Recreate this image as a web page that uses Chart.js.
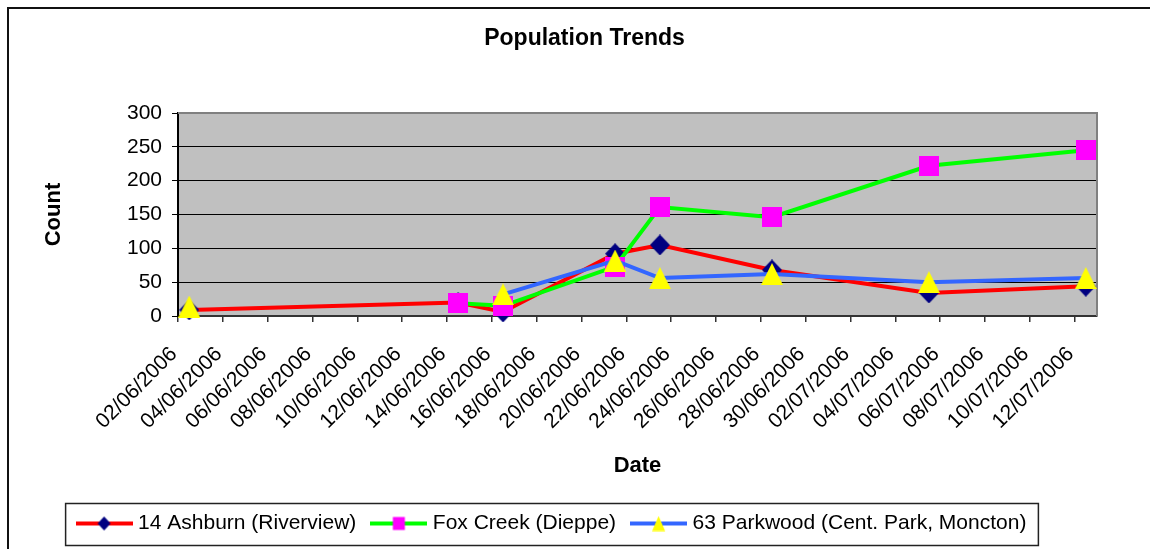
<!DOCTYPE html>
<html><head><meta charset="utf-8">
<script src="https://cdn.jsdelivr.net/npm/chart.js@4/dist/chart.umd.min.js"></script>
<style>html,body{margin:0;padding:0;background:#fff;} canvas{display:block;}</style>
</head><body>
<canvas id="c" width="1150" height="549"></canvas>
<script>
// ---- data ----
const chartTitle = 'Population Trends';
const xAxisTitle = 'Date';
const yAxisTitle = 'Count';
const seriesNames = ['14 Ashburn (Riverview)', 'Fox Creek (Dieppe)', '63 Parkwood (Cent. Park, Moncton)'];
const dates    = ['02/06/2006','14/06/2006','16/06/2006','21/06/2006','23/06/2006','28/06/2006','05/07/2006','12/07/2006'];
const ashburn  = [9,    20,   6,  92, 105,  68,  34,  44];
const foxCreek = [null, 19,  15,  73, 161, 146, 222, 245];
const parkwood = [14, null,  32,  82,  56,  62,  50,  56];
const tickLabels = ['02/06/2006','04/06/2006','06/06/2006','08/06/2006','10/06/2006','12/06/2006','14/06/2006',
  '16/06/2006','18/06/2006','20/06/2006','22/06/2006','24/06/2006','26/06/2006','28/06/2006','30/06/2006',
  '02/07/2006','04/07/2006','06/07/2006','08/07/2006','10/07/2006','12/07/2006'];
const yMin = 0, yMax = 300, yStep = 50;

// ---- helpers ----
const dayNum = s => { const [d, m, y] = s.split('/').map(Number); return Date.UTC(y, m - 1, d) / 864e5; };
const origin = dayNum(tickLabels[0]);
const dayPos = s => dayNum(s) - origin;          // start of the day slot
const series = [ashburn, foxCreek, parkwood];
const toPoints = vals => dates.map((d, i) => ({ x: dayPos(d) + 0.5, y: vals[i] }));
const tickValues = tickLabels.map(dayPos);
const xMax = dayPos(tickLabels[tickLabels.length - 1]) + 1;

function mk(w, h, fn) { const c = document.createElement('canvas'); c.width = w; c.height = h; fn(c.getContext('2d'), w, h); return c; }
function diamond(ctx, cx, cy, w, h, col) { ctx.fillStyle = col; ctx.beginPath(); ctx.moveTo(cx, cy - h/2); ctx.lineTo(cx + w/2, cy); ctx.lineTo(cx, cy + h/2); ctx.lineTo(cx - w/2, cy); ctx.closePath(); ctx.fill(); }
function square(ctx, cx, cy, w, h, col) { ctx.fillStyle = col; ctx.fillRect(cx - w/2, cy - h/2, w, h); }
function triangle(ctx, cx, cy, w, h, col) { ctx.fillStyle = col; ctx.beginPath(); ctx.moveTo(cx, cy - h/2); ctx.lineTo(cx + w/2, cy + h/2); ctx.lineTo(cx - w/2, cy + h/2); ctx.closePath(); ctx.fill(); }

const lineColors = ['#FF0000', '#00FF00', '#3366FF'];
const markerColors = ['#000080', '#FF00FF', '#FFFF00'];
const shapes = [diamond, square, triangle];
const markerSize = [[20, 21], [20, 20], [22, 22]];
const legendMarkerSize = [[13, 14], [12, 13], [13, 15]];

const markers = shapes.map((f, i) => mk(markerSize[i][0], markerSize[i][1], (ctx, w, h) => f(ctx, w/2, h/2, w, h, markerColors[i])));
const legendImgs = shapes.map((f, i) => mk(57, 16, (ctx, w, h) => {
  ctx.strokeStyle = lineColors[i]; ctx.lineWidth = 4; ctx.beginPath(); ctx.moveTo(0, h/2); ctx.lineTo(w, h/2); ctx.stroke();
  f(ctx, w/2, h/2, legendMarkerSize[i][0], legendMarkerSize[i][1], markerColors[i]);
}));

Chart.defaults.font.family = "'Liberation Sans', Arial, sans-serif";
Chart.defaults.color = '#000';

const framePlugin = {
  id: 'frame',
  afterLayout(chart) {
    // Excel centres the title on its (wider) chart object
    chart.titleBlock.left += 62;
  },
  beforeDraw(chart) {
    const { ctx, chartArea: a } = chart;
    ctx.save();
    ctx.fillStyle = '#fff'; ctx.fillRect(0, 0, chart.width, chart.height);
    ctx.strokeStyle = '#111'; ctx.lineWidth = 2;
    ctx.beginPath(); ctx.moveTo(8, chart.height); ctx.lineTo(8, 8); ctx.lineTo(chart.width, 8); ctx.stroke();
    ctx.fillStyle = '#C0C0C0'; ctx.fillRect(a.left, a.top, a.right - a.left, a.bottom - a.top);
    ctx.restore();
  },
  beforeDatasetsDraw(chart) {
    const { ctx, chartArea: a } = chart;
    ctx.save();
    ctx.strokeStyle = '#808080'; ctx.lineWidth = 2;
    ctx.beginPath(); ctx.moveTo(a.left, a.top); ctx.lineTo(a.right, a.top); ctx.lineTo(a.right, a.bottom); ctx.stroke();
    ctx.restore();
  },
  afterDraw(chart) {
    const lg = chart.legend; const hb = lg.legendHitBoxes;
    if (!hb || !hb.length) return;
    const first = hb[0], last = hb[hb.length - 1];
    const cy = first.top + first.height / 2;
    const ctx = chart.ctx;
    ctx.save();
    ctx.strokeStyle = '#222'; ctx.lineWidth = 1.5;
    const l = first.left - 15, r = last.left + last.width + 12;
    ctx.strokeRect(l, cy - 20, r - l, 42);
    ctx.restore();
  }
};

new Chart(document.getElementById('c'), {
  type: 'line',
  data: {
    datasets: series.map((vals, i) => ({
      label: seriesNames[i],
      data: toPoints(vals),
      borderColor: lineColors[i],
      backgroundColor: markerColors[i],
      borderWidth: 4,
      tension: 0,
      pointStyle: markers[i],
      pointRadius: 10,
      pointHoverRadius: 10,
      spanGaps: false,
      clip: false,
      order: series.length - 1 - i
    }))
  },
  options: {
    responsive: false,
    animation: false,
    events: [],
    layout: { padding: { left: 10, right: 53, top: 0, bottom: 5 } },
    plugins: {
      title: {
        display: true, text: chartTitle, color: '#000',
        font: { size: 23, weight: 'bold', lineHeight: 1.2 },
        padding: { top: 25, bottom: 60.4 }
      },
      legend: {
        position: 'bottom',
        labels: {
          usePointStyle: true, pointStyleWidth: 47, padding: 19,
          font: { size: 21 }, color: '#000',
          generateLabels: chart => chart.data.datasets.map((ds, i) => ({
            text: ds.label, pointStyle: legendImgs[i], fillStyle: markerColors[i], strokeStyle: lineColors[i],
            lineWidth: 0, hidden: false, datasetIndex: i, fontColor: '#000'
          }))
        }
      },
      tooltip: { enabled: false }
    },
    scales: {
      x: {
        type: 'linear', min: 0, max: xMax, offset: false,
        afterBuildTicks: axis => { axis.ticks = tickValues.map(v => ({ value: v })); },
        afterFit: axis => { axis.height = 178; },
        ticks: {
          autoSkip: false, minRotation: 45, maxRotation: 45, padding: 20, labelOffset: -4,
          font: { size: 21 }, color: '#000',
          callback: v => tickLabels[tickValues.indexOf(v)]
        },
        grid: { drawOnChartArea: false, drawTicks: true, tickLength: 6, color: '#333', lineWidth: 1.5 },
        border: { display: true, color: '#333', width: 2 },
        title: { display: true, text: xAxisTitle, color: '#000', font: { size: 22, weight: 'bold', lineHeight: 1.2 }, padding: { top: 0, bottom: 14.8 } }
      },
      y: {
        min: yMin, max: yMax,
        afterFit: axis => { axis.width = 168; },
        ticks: { stepSize: yStep, padding: 10, font: { size: 21 }, color: '#000' },
        grid: { color: '#000', lineWidth: 1, drawTicks: true, tickLength: 6 },
        border: { display: true, color: '#000', width: 2 },
        title: { display: true, text: yAxisTitle, color: '#000', font: { size: 22, weight: 'bold', lineHeight: 1.2 }, padding: { top: 30.8, bottom: 0 } }
      }
    }
  },
  plugins: [framePlugin]
});
</script>
</body></html>
